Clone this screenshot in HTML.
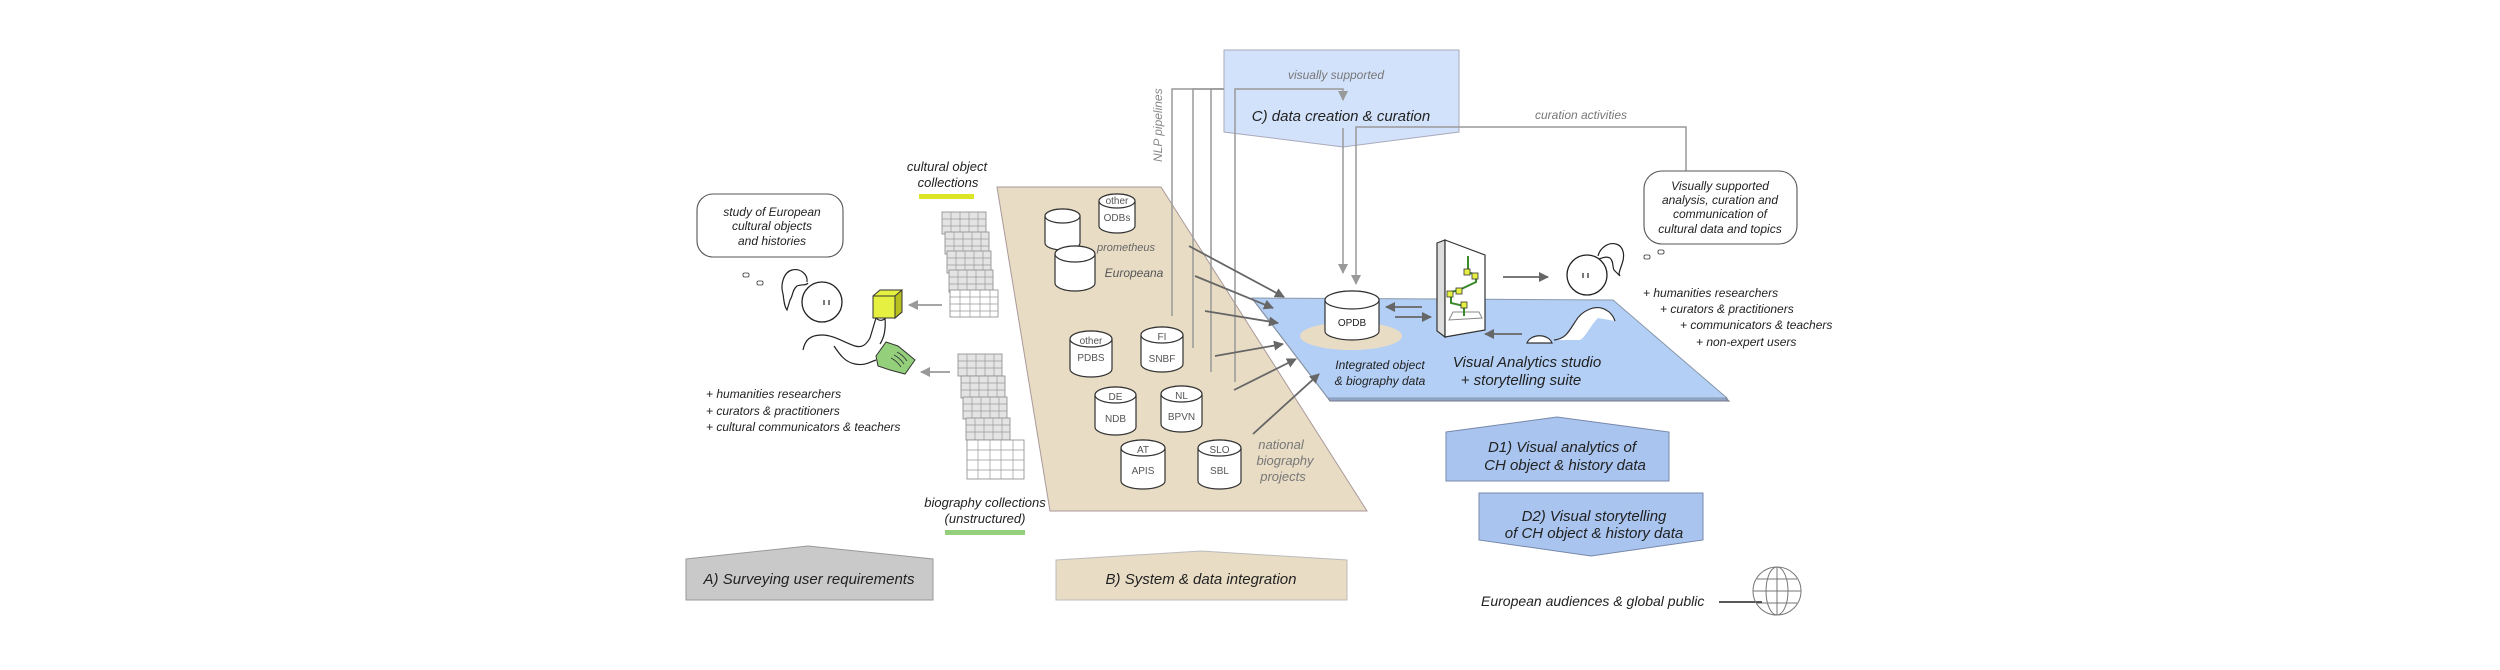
<!DOCTYPE html>
<html><head><meta charset="utf-8"><style>
html,body{margin:0;padding:0;background:#fff;}
svg{display:block;}
text{font-family:"Liberation Sans",sans-serif;font-style:italic;}
.c{font-style:normal;fill:#555;font-size:10px;text-anchor:middle;}
</style></head><body>
<svg width="2500" height="670" viewBox="0 0 2500 670" xmlns="http://www.w3.org/2000/svg">
<defs>
<marker id="ad" markerWidth="10" markerHeight="10" refX="9" refY="5" orient="auto" markerUnits="userSpaceOnUse"><path d="M0,0 L10,5 L0,10 Z" fill="#666"/></marker>
<marker id="al" markerWidth="10" markerHeight="10" refX="9" refY="5" orient="auto" markerUnits="userSpaceOnUse"><path d="M0,0 L10,5 L0,10 Z" fill="#999"/></marker>
<g id="tg"><rect x="0" y="0" width="44" height="22" fill="#e4e4e4" stroke="#888" stroke-width="0.8"/><path d="M0,7H44M0,14H44M9,0V22M18,0V22M27,0V22M36,0V22" stroke="#999" stroke-width="0.7"/></g>
<g id="tw"><rect x="0" y="0" width="48" height="27" fill="#fff" stroke="#888" stroke-width="0.8"/><path d="M0,7H48M0,14H48M0,21H48M10,0V27M20,0V27M30,0V27M40,0V27" stroke="#999" stroke-width="0.7"/></g>
</defs>
<rect width="2500" height="670" fill="#fff"/>

<!-- C box -->
<path d="M1224,50 H1459 V132 L1343,147 L1224,132 Z" fill="#d3e2fb" stroke="#aab" stroke-width="1"/>
<text x="1336" y="79" font-size="12" fill="#777" text-anchor="middle">visually supported</text>
<text x="1341" y="121" font-size="15" fill="#222" text-anchor="middle">C) data creation &amp; curation</text>

<!-- beige plane -->
<path d="M997,187 L1161,187 L1367,511 L1050,511 Z" fill="#e8dcc5" stroke="#a99" stroke-width="1"/>

<!-- platform -->
<path d="M1254,301 L1615,303 L1729,401 L1330,401 Z" fill="#8fa7cc" stroke="#778" stroke-width="1"/>
<path d="M1252,298 L1613,300 L1727,398 L1328,398 Z" fill="#b4cff5" stroke="#8899aa" stroke-width="1"/>
<ellipse cx="1351" cy="336" rx="51" ry="14" fill="#e8dcc5"/>

<!-- NLP lines -->
<text transform="translate(1162,162) rotate(-90)" font-size="12" fill="#888">NLP pipelines</text>
<g stroke="#999" stroke-width="1.5" fill="none">
<path d="M1172,316 V89 H1224"/>
<path d="M1193,348 V89 H1224"/>
<path d="M1211,372 V89 H1224"/>
<path d="M1235,382 V89 H1343 V100" marker-end="url(#al)"/>
<path d="M1343,128 V273" marker-end="url(#al)"/>
<path d="M1686,173 V127 H1356 V284" marker-end="url(#al)"/>
</g>
<text x="1581" y="119" font-size="12" fill="#777" text-anchor="middle">curation activities</text>

<!-- cylinders -->
<g stroke="#333" stroke-width="1.2" fill="#fff">
<path d="M1099,201 A18,7 0 0 1 1135,201 V226 A18,7 0 0 1 1099,226 Z"/><ellipse cx="1117" cy="201" rx="18" ry="7"/>
<path d="M1045,216 A17.5,7 0 0 1 1080,216 V243 A17.5,7 0 0 1 1045,243 Z"/><ellipse cx="1062.5" cy="216" rx="17.5" ry="7"/>
<path d="M1055,254 A20,8 0 0 1 1095,254 V283 A20,8 0 0 1 1055,283 Z"/><ellipse cx="1075" cy="254" rx="20" ry="8"/>
<path d="M1070,339 A21,8 0 0 1 1112,339 V369 A21,8 0 0 1 1070,369 Z"/><ellipse cx="1091" cy="339" rx="21" ry="8"/>
<path d="M1141,335 A21,8 0 0 1 1183,335 V364 A21,8 0 0 1 1141,364 Z"/><ellipse cx="1162" cy="335" rx="21" ry="8"/>
<path d="M1095,395 A20.5,8 0 0 1 1136,395 V427 A20.5,8 0 0 1 1095,427 Z"/><ellipse cx="1115.5" cy="395" rx="20.5" ry="8"/>
<path d="M1161,394 A20.5,8 0 0 1 1202,394 V424 A20.5,8 0 0 1 1161,424 Z"/><ellipse cx="1181.5" cy="394" rx="20.5" ry="8"/>
<path d="M1121,448 A22,8 0 0 1 1165,448 V481 A22,8 0 0 1 1121,481 Z"/><ellipse cx="1143" cy="448" rx="22" ry="8"/>
<path d="M1198,448 A21.5,8 0 0 1 1241,448 V481 A21.5,8 0 0 1 1198,481 Z"/><ellipse cx="1219.5" cy="448" rx="21.5" ry="8"/>
<path d="M1325,300 A27,9 0 0 1 1379,300 V331 A27,9 0 0 1 1325,331 Z"/><ellipse cx="1352" cy="300" rx="27" ry="9"/>
</g>
<text class="c" x="1117" y="204" font-size="9">other</text><text class="c" x="1117" y="221">ODBs</text>
<text class="c" x="1091" y="344">other</text><text class="c" x="1091" y="361">PDBS</text>
<text class="c" x="1162" y="340">FI</text><text class="c" x="1162" y="362">SNBF</text>
<text class="c" x="1115.5" y="400">DE</text><text class="c" x="1115.5" y="422">NDB</text>
<text class="c" x="1181.5" y="399">NL</text><text class="c" x="1181.5" y="420">BPVN</text>
<text class="c" x="1143" y="453">AT</text><text class="c" x="1143" y="474">APIS</text>
<text class="c" x="1219.5" y="453">SLO</text><text class="c" x="1219.5" y="474">SBL</text>
<text class="c" x="1352" y="326" font-size="11" style="fill:#222">OPDB</text>
<text x="1126" y="251" font-size="11" fill="#666" text-anchor="middle">prometheus</text>
<text x="1134" y="277" font-size="12" fill="#555" text-anchor="middle">Europeana</text>
<text font-size="13" fill="#777" text-anchor="middle"><tspan x="1281" y="449">national</tspan><tspan x="1285" y="465">biography</tspan><tspan x="1283" y="481">projects</tspan></text>

<!-- dark arrows -->
<g stroke="#666" stroke-width="1.8" marker-end="url(#ad)">
<line x1="1189" y1="246" x2="1284" y2="297"/>
<line x1="1195" y1="276" x2="1273" y2="308"/>
<line x1="1205" y1="311" x2="1278" y2="323"/>
<line x1="1215" y1="356" x2="1283" y2="344"/>
<line x1="1234" y1="390" x2="1296" y2="359"/>
<line x1="1253" y1="434" x2="1319" y2="374"/>
<line x1="1422" y1="307" x2="1386" y2="307"/>
<line x1="1395" y1="317" x2="1431" y2="317"/>
<line x1="1503" y1="277" x2="1548" y2="277"/>
<line x1="1522" y1="334" x2="1485" y2="334"/>
</g>

<text font-size="12" fill="#222" text-anchor="middle"><tspan x="1380" y="369">Integrated object</tspan><tspan x="1380" y="385">&amp; biography data</tspan></text>
<text font-size="15" fill="#222" text-anchor="middle"><tspan x="1527" y="367">Visual Analytics studio</tspan><tspan x="1521" y="385">+  storytelling suite</tspan></text>

<!-- screen -->
<path d="M1437,243 L1445,240 L1445,337 L1437,331 Z" fill="#ddd" stroke="#333" stroke-width="1.2"/>
<path d="M1445,240 L1485,255 L1485,330 L1445,337 Z" fill="#fff" stroke="#333" stroke-width="1.2"/>
<path d="M1449,320 L1453,312 L1479,312 L1482,318 Z" fill="none" stroke="#888" stroke-width="1"/>
<path d="M1468,256 V272 L1476,275 V282 L1459,290 L1451,292 V303 L1464,306 V316" fill="none" stroke="#3a8a2a" stroke-width="2"/>
<g fill="#e6f040" stroke="#333" stroke-width="0.8">
<rect x="1464" y="269" width="6" height="6"/><rect x="1472" y="273" width="6" height="6"/>
<rect x="1456" y="288" width="6" height="6"/><rect x="1447" y="291" width="6" height="6"/>
<rect x="1461" y="302" width="6" height="6"/></g>

<!-- mouse & wave -->
<path d="M1527,343 A13,10 0 0 1 1552,343 Z" fill="#fff" stroke="#333" stroke-width="1.2"/>
<path d="M1554,340 C1565,339 1568,333 1575,322 C1582,310 1596,304 1606,310 C1612,313 1614,318 1615,321 L1598,318 C1590,326 1585,338 1580,340 Z" fill="#fff"/>
<path d="M1554,340 C1565,339 1568,333 1575,322 C1582,310 1596,304 1606,310 C1612,313 1614,318 1615,321" fill="none" stroke="#333" stroke-width="1.2"/>

<!-- right figure -->
<circle cx="1587" cy="275" r="20" fill="#fff" stroke="#222" stroke-width="1.3"/>
<path d="M1583,273 v5 M1588,273 v5" stroke="#222" stroke-width="1.2"/>
<path d="M1598,256 C1600,248 1608,242 1616,244 C1624,246 1625,256 1622,264 C1620,270 1618,274 1620,276 L1614,270 C1612,266 1614,262 1610,258 C1606,256 1602,258 1599,259" fill="none" stroke="#222" stroke-width="1.2"/>
<rect x="1644" y="255" width="6" height="4" rx="1.5" fill="none" stroke="#333" stroke-width="0.8"/>
<rect x="1658" y="250" width="6" height="4" rx="1.5" fill="none" stroke="#333" stroke-width="0.8"/>
<rect x="1644" y="171" width="153" height="73" rx="18" fill="#fff" stroke="#555" stroke-width="1.1"/>
<text font-size="12" fill="#222" text-anchor="middle"><tspan x="1720" y="190">Visually supported</tspan><tspan x="1720" y="204">analysis, curation and</tspan><tspan x="1720" y="218">communication of</tspan><tspan x="1720" y="233">cultural  data and topics</tspan></text>
<text font-size="12" fill="#222"><tspan x="1643" y="297">+ humanities researchers</tspan><tspan x="1660" y="313">+ curators &amp; practitioners</tspan><tspan x="1680" y="329">+ communicators &amp; teachers</tspan><tspan x="1696" y="346">+ non-expert users</tspan></text>

<!-- D boxes -->
<path d="M1446,432 L1557,417 L1669,432 V481 H1446 Z" fill="#a9c4ee" stroke="#7788aa" stroke-width="1"/>
<text font-size="15" fill="#222" text-anchor="middle"><tspan x="1562" y="452">D1) Visual analytics of</tspan><tspan x="1565" y="470">CH object &amp; history data</tspan></text>
<path d="M1479,493 H1703 V540 L1591,556 L1479,540 Z" fill="#a9c4ee" stroke="#7788aa" stroke-width="1"/>
<text font-size="15" fill="#222" text-anchor="middle"><tspan x="1594" y="521">D2) Visual storytelling</tspan><tspan x="1594" y="538">of CH object &amp; history data</tspan></text>

<!-- globe -->
<text x="1481" y="606" font-size="14" fill="#222">European audiences &amp; global public</text>
<line x1="1719" y1="602" x2="1762" y2="602" stroke="#222" stroke-width="1.5"/>
<g fill="none" stroke="#777" stroke-width="1"><circle cx="1777" cy="591" r="24"/><ellipse cx="1777" cy="591" rx="11" ry="24"/><line x1="1777" y1="567" x2="1777" y2="615"/><line x1="1753" y1="591" x2="1801" y2="591"/><line x1="1757" y1="579" x2="1797" y2="579"/><line x1="1757" y1="603" x2="1797" y2="603"/></g>

<!-- A & B boxes -->
<path d="M686,559 L808,546 L933,559 V600 H686 Z" fill="#c9c9c9" stroke="#999" stroke-width="1"/>
<text x="809" y="584" font-size="15" fill="#222" text-anchor="middle">A) Surveying user requirements</text>
<path d="M1056,560 L1201,551 L1347,560 V600 H1056 Z" fill="#e8dcc5" stroke="#bbb" stroke-width="1"/>
<text x="1201" y="584" font-size="15" fill="#222" text-anchor="middle">B) System &amp; data integration</text>

<!-- left side -->
<rect x="697" y="194" width="146" height="63" rx="16" fill="#fff" stroke="#555" stroke-width="1.1"/>
<text font-size="12" fill="#222" text-anchor="middle"><tspan x="772" y="216">study of European</tspan><tspan x="772" y="230">cultural objects</tspan><tspan x="772" y="245">and histories</tspan></text>
<rect x="743" y="273" width="6" height="4" rx="1.5" fill="none" stroke="#333" stroke-width="0.8"/>
<rect x="757" y="281" width="6" height="4" rx="1.5" fill="none" stroke="#333" stroke-width="0.8"/>
<circle cx="822" cy="302" r="20" fill="#fff" stroke="#222" stroke-width="1.3"/>
<path d="M824,300 v5 M829,300 v5" stroke="#222" stroke-width="1.2"/>
<path d="M807,282 C808,274 800,268 792,270 C784,272 780,284 783,294 C784,300 784,306 787,310 L790,300 C793,296 792,290 797,286 C801,284 806,286 808,283" fill="none" stroke="#222" stroke-width="1.2"/>
<path d="M803,350 C805,340 810,335 822,335 C834,335 845,343 855,346 C862,348 866,345 870,338 L876,318" fill="none" stroke="#222" stroke-width="1.2"/>
<path d="M876,318 C880,322 884,320 885,318 C886,330 884,338 880,344" fill="none" stroke="#222" stroke-width="1.2"/>
<path d="M834,346 C840,355 845,362 855,364 C865,366 870,362 876,360" fill="none" stroke="#222" stroke-width="1.2"/>
<path d="M873,296 L880,290 L902,290 L902,312 L895,318 L873,318 Z" fill="#e6f040" stroke="#333" stroke-width="1"/>
<path d="M895,296 L902,290 V312 L895,318 Z" fill="#b8c020" stroke="#333" stroke-width="1"/>
<line x1="873" y1="296" x2="895" y2="296" stroke="#333"/>
<path d="M876,356 L886,342 L898,346 L915,360 L905,374 L890,370 L878,366 Z" fill="#94d07c" stroke="#333" stroke-width="1"/>
<path d="M894,355 q6,3 10,9 M891,358 q6,3 10,9 M897,352 q6,3 10,9" fill="none" stroke="#333" stroke-width="0.8"/>
<g stroke="#999" stroke-width="1.8" marker-end="url(#al)">
<line x1="942" y1="305" x2="909" y2="305"/>
<line x1="950" y1="372" x2="921" y2="372"/>
</g>
<text font-size="12" fill="#222"><tspan x="706" y="398">+ humanities researchers</tspan><tspan x="706" y="415">+ curators &amp; practitioners</tspan><tspan x="706" y="431">+ cultural communicators &amp; teachers</tspan></text>

<text font-size="13" fill="#222" text-anchor="middle"><tspan x="947" y="171">cultural object</tspan><tspan x="948" y="187">collections</tspan></text>
<rect x="919" y="194" width="55" height="5" fill="#dde626"/>
<use href="#tg" x="942" y="212"/><use href="#tg" x="945" y="232"/><use href="#tg" x="947" y="251"/><use href="#tg" x="949" y="270"/><use href="#tw" x="950" y="290"/>
<use href="#tg" x="958" y="354"/><use href="#tg" x="961" y="376"/><use href="#tg" x="963" y="397"/><use href="#tg" x="966" y="418"/>
<rect x="967" y="440" width="57" height="39" fill="#fff" stroke="#888" stroke-width="0.8"/>
<path d="M967,450H1024M967,460H1024M967,470H1024M978,440V479M990,440V479M1001,440V479M1013,440V479" stroke="#999" stroke-width="0.7"/>
<text font-size="13" fill="#222" text-anchor="middle"><tspan x="985" y="507">biography collections</tspan><tspan x="985" y="523">(unstructured)</tspan></text>
<rect x="945" y="530" width="80" height="5" fill="#94d07c"/>
</svg>
</body></html>
